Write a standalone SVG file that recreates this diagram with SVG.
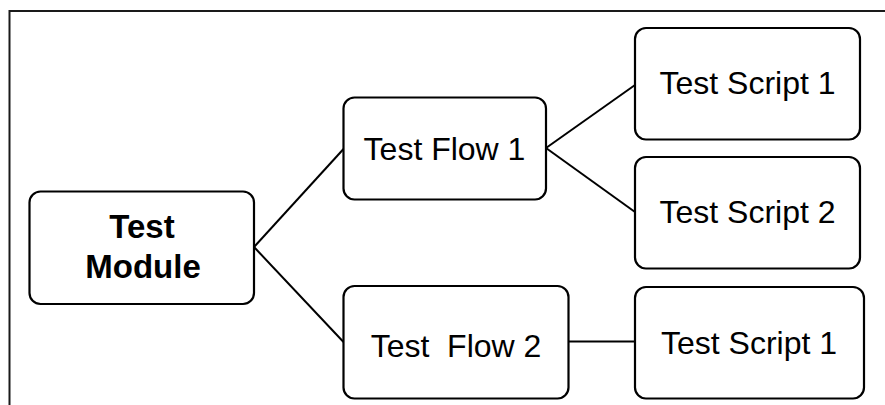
<svg xmlns="http://www.w3.org/2000/svg" width="885" height="405" viewBox="0 0 885 405">
<style>
.box{fill:#fff;stroke:#000;stroke-width:2.2}
.t{font-family:"Liberation Sans",Arial,sans-serif;font-size:32px;fill:#000;text-anchor:middle}
.b{font-weight:bold;font-size:33px}
.c{stroke:#000;stroke-width:2;fill:none}
</style>
<rect width="885" height="405" fill="#fff"/>
<g id="frame">
<path d="M9.5 405 V11 H885" fill="none" stroke="#1a1a1a" stroke-width="2"/>
</g>
<g id="connectors">
<line class="c" x1="254" y1="247" x2="343.5" y2="149"/>
<line class="c" x1="254" y1="247" x2="343.5" y2="342"/>
<line class="c" x1="546" y1="148" x2="635" y2="85"/>
<line class="c" x1="546" y1="148" x2="635" y2="212"/>
<line class="c" x1="568.5" y1="341.5" x2="635" y2="341.5"/>
</g>
<g id="test-module">
<rect class="box" x="29.5" y="191.5" width="224.5" height="112.5" rx="11"/>
<text class="t b" x="142" y="238">Test</text>
<text class="t b" x="143" y="278">Module</text>
</g>
<g id="test-flow-1">
<rect class="box" x="343.5" y="97.5" width="202.5" height="102" rx="11"/>
<text class="t" x="444.5" y="159.5">Test Flow 1</text>
</g>
<g id="test-flow-2">
<rect class="box" x="343.5" y="286" width="225" height="112.5" rx="11"/>
<text class="t" x="456" y="357" xml:space="preserve">Test  Flow 2</text>
</g>
<g id="test-script-1a">
<rect class="box" x="635" y="28" width="225" height="111.5" rx="11"/>
<text class="t" x="747.5" y="93.5">Test Script 1</text>
</g>
<g id="test-script-2">
<rect class="box" x="635" y="157" width="225" height="111.5" rx="11"/>
<text class="t" x="747.5" y="223">Test Script 2</text>
</g>
<g id="test-script-1b">
<rect class="box" x="635" y="287" width="229" height="111.5" rx="11"/>
<text class="t" x="749" y="353.5">Test Script 1</text>
</g>
</svg>
